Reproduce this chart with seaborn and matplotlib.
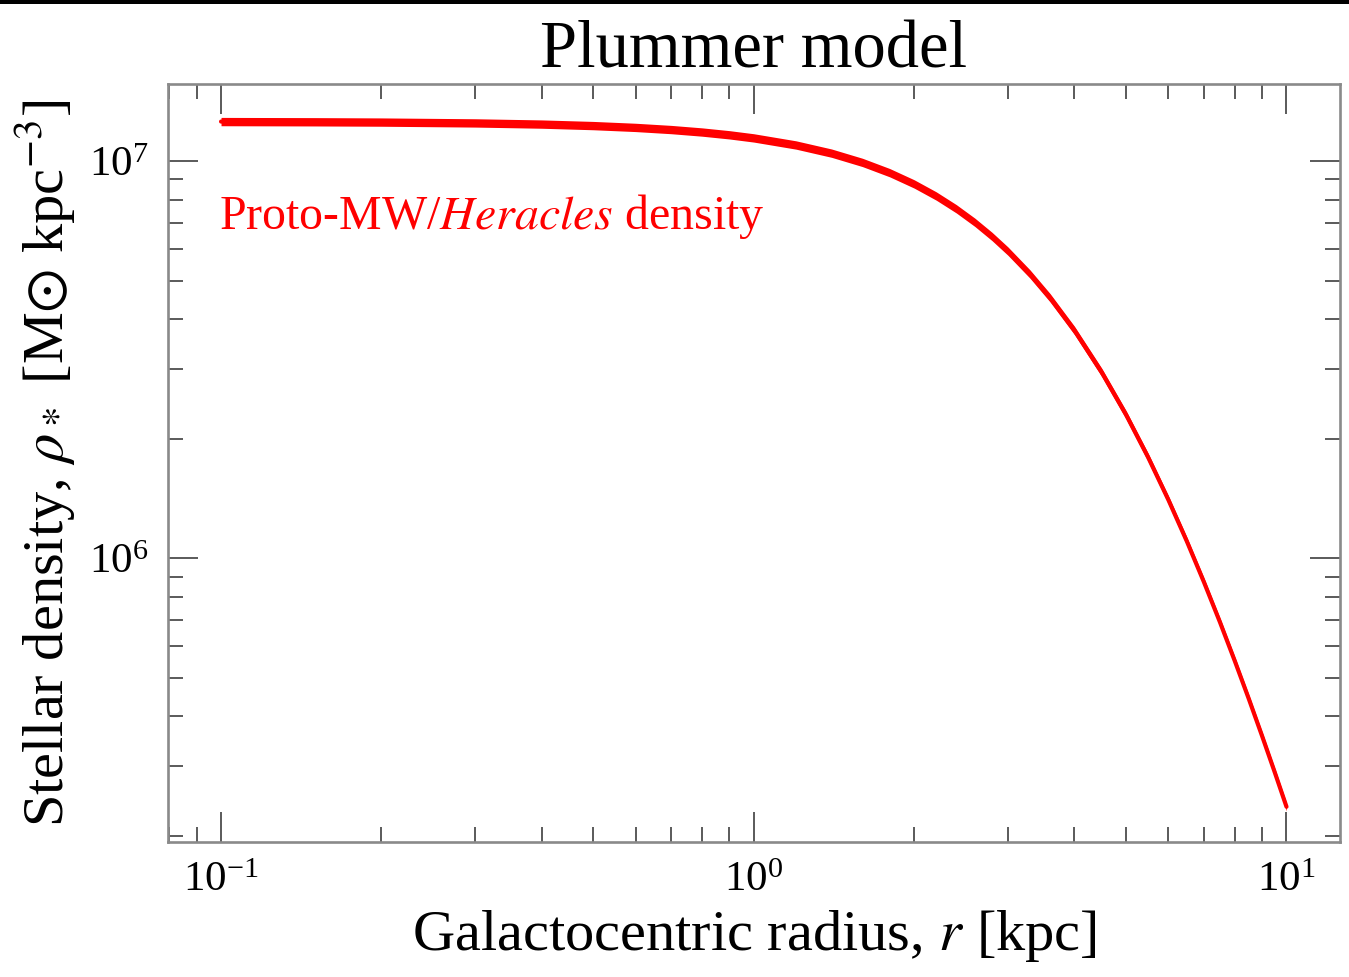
import numpy as np
import pandas as pd
import matplotlib
matplotlib.use("Agg")
import matplotlib.pyplot as plt
from matplotlib.ticker import LogLocator, NullFormatter
import seaborn as sns

# ---- data ----
radius_kpc = [0.1, 0.15, 0.2, 0.3, 0.4, 0.5, 0.6, 0.7, 0.8, 0.9,
              1.0, 1.2, 1.4, 1.6, 1.8, 2.0, 2.2, 2.4, 2.6, 2.8,
              3.0, 3.3, 3.6, 4.0, 4.5, 5.0, 5.5, 6.0, 6.5, 7.0,
              7.5, 8.0, 8.5, 9.0, 9.5, 10.0]
density = [1.2573e7, 1.2557e7, 1.2536e7, 1.2475e7, 1.2391e7, 1.2283e7, 1.2154e7, 1.2004e7, 1.1833e7, 1.1644e7,
           1.1437e7, 1.0978e7, 1.0469e7, 9.921e6, 9.348e6, 8.760e6, 8.169e6, 7.584e6, 7.013e6, 6.461e6,
           5.934e6, 5.196e6, 4.527e6, 3.746e6, 2.938e6, 2.297e6, 1.795e6, 1.405e6, 1.104e6, 8.711e5,
           6.911e5, 5.511e5, 4.423e5, 3.570e5, 2.900e5, 2.370e5]

title = "Plummer model"
xlabel = r"Galactocentric radius, $r$ [kpc]"
ylabel = r"Stellar density, $\rho_*$ [M$\odot$ kpc$^{-3}$]"
annotation = r"Proto-MW/$\mathit{Heracles}$ density"

df = pd.DataFrame({"r": radius_kpc, "rho": density})

# ---- style ----
sns.set_theme(style="ticks")
plt.rcParams["font.family"] = ["Liberation Serif", "DejaVu Serif"]
plt.rcParams["mathtext.fontset"] = "stix"
plt.rcParams["text.color"] = "black"
plt.rcParams["axes.labelcolor"] = "black"
plt.rcParams["xtick.labelcolor"] = "black"
plt.rcParams["ytick.labelcolor"] = "black"
plt.rcParams["axes.edgecolor"] = "#8a8a8a"
plt.rcParams["axes.linewidth"] = 1.9

fig = plt.figure(figsize=(13.49, 9.77), dpi=100)
ax = fig.add_axes([0.1245, 0.138, 0.8688, 0.776])
ax.set_xscale("log")
ax.set_yscale("log")

band = 10 ** 0.0105  # visual thickness of the band (style)
ax.fill_between(df["r"], df["rho"] / band, df["rho"] * band, color="red", lw=0, zorder=2)
sns.lineplot(data=df, x="r", y="rho", ax=ax, color="red", lw=3.0, zorder=3)

ax.set_xlim(0.0795, 12.6)
ax.set_ylim(1.93e5, 1.563e7)

ax.xaxis.set_major_locator(LogLocator(base=10, numticks=10))
ax.xaxis.set_minor_locator(LogLocator(base=10, subs=np.arange(2, 10), numticks=20))
ax.yaxis.set_major_locator(LogLocator(base=10, numticks=10))
ax.yaxis.set_minor_locator(LogLocator(base=10, subs=np.arange(2, 10), numticks=20))
ax.xaxis.set_minor_formatter(NullFormatter())
ax.yaxis.set_minor_formatter(NullFormatter())

ax.tick_params(which="both", direction="in", top=True, right=True, color="#5a5a5a", width=1.4)
ax.tick_params(which="major", length=21.5, labelsize=31, pad=14)
ax.tick_params(which="minor", length=10.5)

ax.set_title(title, fontsize=48, pad=12)
ax.set_xlabel(xlabel, fontsize=42, labelpad=6)
ax.set_ylabel(ylabel, fontsize=42, labelpad=8)

ax.text(0.0991, 6.74e6, annotation, color="red", fontsize=34.5, transform=ax.transData,
        ha="left", va="baseline")

# thin black strip along the top edge of the image
fig.add_artist(plt.Rectangle((0, 1 - 4 / 977), 1, 4 / 977, transform=fig.transFigure,
                             color="black", lw=0))

fig.savefig("out.png", dpi=100, facecolor="white")
